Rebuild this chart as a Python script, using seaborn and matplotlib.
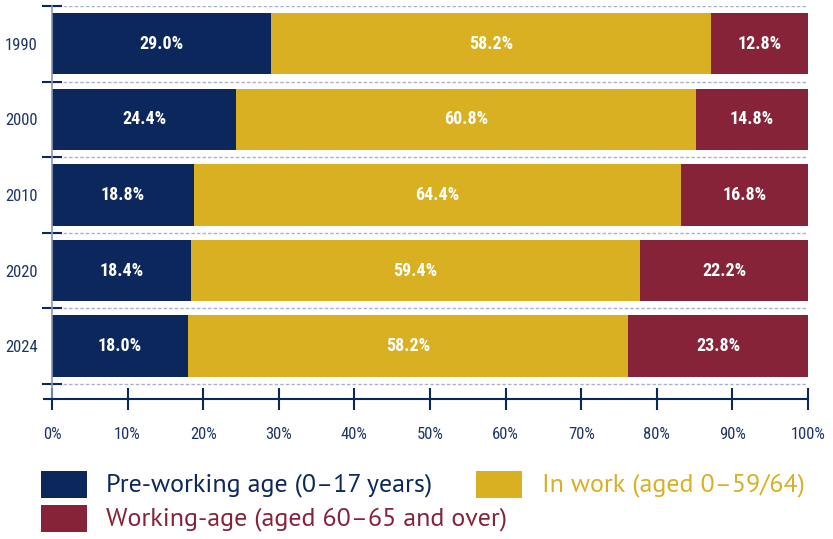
import matplotlib
matplotlib.use("Agg")
import matplotlib.pyplot as plt
from matplotlib import font_manager as fm
from matplotlib.patches import Rectangle
import seaborn as sns
import pandas as pd
import numpy as np

years = ["1990", "2000", "2010", "2020", "2024"]
pre_working = [29.0, 24.4, 18.8, 18.4, 18.0]
in_work = [58.2, 60.8, 64.4, 59.4, 58.2]
working_age = [12.8, 14.8, 16.8, 22.2, 23.8]
series_names = ["Pre-working age (0\u201317 years)", "In work (aged 0\u201359/64)",
                "Working-age (aged 60\u201365 and over)"]
xtick_vals = [0, 10, 20, 30, 40, 50, 60, 70, 80, 90, 100]

NAVY = "#0b275b"
GOLD = "#d9b022"
MAROON = "#862339"
TEXT = "#1e3466"
GRID = "#a9b3c8"

sns.set_theme(style="white")
available = {f.name for f in fm.fontManager.ttflist}


def pick(cands):
    for c in cands:
        if c in available:
            return c
    return "DejaVu Sans"


COND = pick(["Roboto Condensed", "PT Sans Narrow", "Fira Sans Condensed",
             "Open Sans Condensed", "Encode Sans Condensed", "Asap Condensed",
             "Archivo Narrow", "Liberation Sans Narrow", "Roboto"])
REG = pick(["PT Sans", "Noto Sans", "Open Sans"])
plt.rcParams["font.family"] = [COND, "DejaVu Sans"]

df = pd.DataFrame({"year": years, "pre": pre_working, "work": in_work, "old": working_age})
df["c1"] = df["pre"]
df["c2"] = df["pre"] + df["work"]
df["c3"] = df["c2"] + df["old"]

fig = plt.figure(figsize=(8.33, 5.39), dpi=100)
ax = fig.add_axes([52/833, 1-399/539, (808-52)/833, (399-6)/539])

W = 0.81
for col, colr in [("c3", MAROON), ("c2", GOLD), ("c1", NAVY)]:
    sns.barplot(data=df, x=col, y="year", order=years, color=colr, width=W,
                saturation=1, orient="h", ax=ax, linewidth=0)

for i, row in df.iterrows():
    starts = [0, row["c1"], row["c2"]]
    vals = [row["pre"], row["work"], row["old"]]
    for s, v in zip(starts, vals):
        ax.text(s + v/2, i, f"{v:.1f}%", ha="center", va="center",
                color="white", fontsize=13, fontweight="bold", family=[COND, "DejaVu Sans"])

ax.set_xlim(0, 100)
ax.set_ylim(4.7, -0.5)
ax.set_xlabel("")
ax.set_ylabel("")

ax.set_xticks(xtick_vals)
ax.set_xticklabels([f"{v}%" for v in xtick_vals])
ax.set_yticks(range(len(years)))
ax.set_yticklabels(years)
ax.set_yticks(np.arange(-0.5, len(years)), minor=True)

for lab in ax.get_xticklabels():
    lab.set_color(TEXT)
    lab.set_fontsize(12)
for lab in ax.get_yticklabels():
    lab.set_color(TEXT)
    lab.set_fontsize(12)

ax.tick_params(axis="y", which="major", left=False, length=0, pad=10.5)
ax.tick_params(axis="y", which="minor", left=True, direction="inout", length=15,
               width=1.5, color=NAVY)
ax.tick_params(axis="x", which="major", bottom=True, direction="inout", length=16,
               width=1.5, color=NAVY, pad=12)

ax.grid(False)
ax.grid(True, axis="y", which="minor", color=GRID, linestyle=(0, (2.5, 1.5)), linewidth=1)
ax.set_axisbelow(True)

for side in ["top", "right"]:
    ax.spines[side].set_visible(False)
ax.spines["left"].set_color("#8a97b3")
ax.spines["left"].set_linewidth(1.2)
ax.spines["bottom"].set_color(NAVY)
ax.spines["bottom"].set_linewidth(1.5)
ax.spines["bottom"].set_bounds(-1, 100)

# legend, placed manually in pixel coordinates
FW, FH = 833, 539
items = [(NAVY, series_names[0], 41, 471, 106),
         (GOLD, series_names[1], 476, 471, 542),
         (MAROON, series_names[2], 41, 505, 106)]
renderer = fig.canvas.get_renderer()
probe = fig.text(0, 0, series_names[0], fontsize=16, fontweight="normal",
                 family=[REG, "DejaVu Sans"])
w = probe.get_window_extent(renderer).width
probe.remove()
leg_size = 16 * 329 / w
for colr, label, sx, sy, tx in items:
    fig.patches.append(Rectangle((sx/FW, 1-(sy+27)/FH), 46/FW, 27/FH,
                                 transform=fig.transFigure, facecolor=colr,
                                 edgecolor="none"))
    fig.text(tx/FW, 1-(sy+14)/FH, label, color=colr, fontsize=leg_size,
             fontweight="normal", va="center", ha="left", family=[REG, "DejaVu Sans"])

fig.savefig("out.png", dpi=100)
